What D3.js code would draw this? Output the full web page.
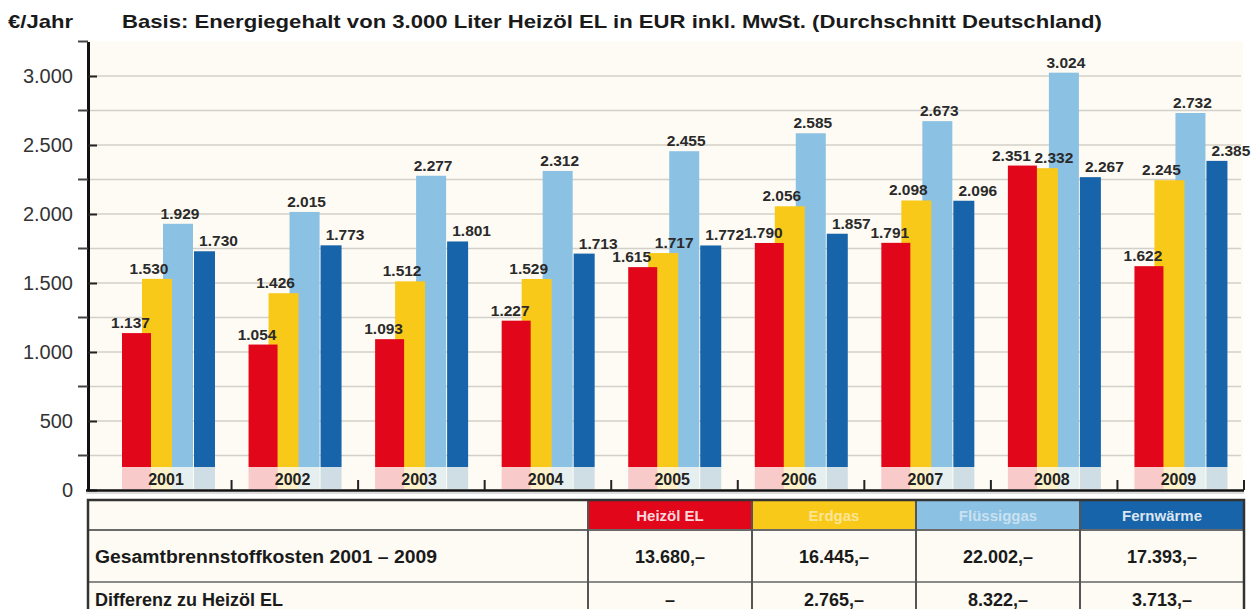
<!DOCTYPE html>
<html>
<head>
<meta charset="utf-8">
<script src="https://cdn.jsdelivr.net/npm/d3@7"></script>
<style>
  body { margin: 0; background: #fff; }
  svg { display: block; font-family: Arial, "Liberation Sans", sans-serif; }
</style>
</head>
<body>
<div id="chart"></div>
<script>
// data
var years = ["2001", "2002", "2003", "2004", "2005", "2006", "2007", "2008", "2009"];
var heizoel = [1137, 1054, 1093, 1227, 1615, 1790, 1791, 2351, 1622];
var erdgas = [1530, 1426, 1512, 1529, 1717, 2056, 2098, 2332, 2245];
var fluessiggas = [1929, 2015, 2277, 2312, 2455, 2585, 2673, 3024, 2732];
var fernwaerme = [1730, 1773, 1801, 1713, 1772, 1857, 2096, 2267, 2385];
var seriesNames = ["Heizöl EL", "Erdgas", "Flüssiggas", "Fernwärme"];
var yTicks = [0, 500, 1000, 1500, 2000, 2500, 3000];
var totalLabel = "Gesamtbrennstoffkosten 2001 – 2009";
var totals = ["13.680,–", "16.445,–", "22.002,–", "17.393,–"];
var diffLabel = "Differenz zu Heizöl EL";
var diffs = ["–", "2.765,–", "8.322,–", "3.713,–"];
var title = "Basis: Energiegehalt von 3.000 Liter Heizöl EL in EUR inkl. MwSt. (Durchschnitt Deutschland)";
var unit = "€/Jahr";

function createChart()
{
    var W = 1257, H = 609;
    var colors = ["#e2061b", "#f9c91a", "#8bc1e2", "#1764aa"];
    var series = [heizoel, erdgas, fluessiggas, fernwaerme];

    var de = d3.formatLocale({decimal: ",", thousands: ".", grouping: [3], currency: ["", "€"]});
    var fmt = de.format(",");

    var svg = d3.select("#chart").append("svg")
      .attr("width", W)
      .attr("height", H);

    var y = d3.scaleLinear().domain([0, 3250]).range([490, 41.5]);
    var x = d3.scaleBand().domain(years).range([105, 1244]).paddingInner(0).paddingOuter(0);

    // plot background
    svg.append("rect")
      .attr("x", 88).attr("y", y(3250))
      .attr("width", 1155).attr("height", y(0) - y(3250))
      .attr("fill", "#fdfbf4");

    // gridlines every 250
    var minor = d3.range(250, 3001, 250);
    svg.append("g").selectAll("line").data(minor).join("line")
      .attr("x1", 88).attr("x2", 1241)
      .attr("y1", d => y(d)).attr("y2", d => y(d))
      .attr("stroke", "#d3d0c9").attr("stroke-width", 1.6);

    // bars (in sub-band offsets / widths)
    var offs = [17, 37, 58, 89], wids = [29, 30, 30, 21];
    var stripTop = y(0) - 23;
    var order = [3, 2, 1, 0];
    var bars = svg.append("g");
    order.forEach(s => {
        bars.append("g").selectAll("rect").data(series[s]).join("rect")
          .attr("x", (d, i) => x(years[i]) + offs[s])
          .attr("width", wids[s])
          .attr("y", d => y(d))
          .attr("height", d => stripTop - y(d))
          .attr("fill", colors[s]);
        bars.append("g").selectAll("rect").data(series[s]).join("rect")
          .attr("x", (d, i) => x(years[i]) + offs[s])
          .attr("width", wids[s])
          .attr("y", stripTop)
          .attr("height", y(0) - stripTop - 1)
          .attr("fill", d3.interpolateRgb(colors[s], "#fdfbf4")(0.8));
    });

    // year labels
    svg.append("g").selectAll("text").data(years).join("text")
      .attr("x", d => x(d) + 61)
      .attr("y", y(0) - 5)
      .attr("text-anchor", "middle")
      .attr("font-size", 16).attr("font-weight", "bold")
      .attr("fill", "#222")
      .text(d => d);

    // value labels
    var dxs = [-6, -8, 2, 14];
    var labels = svg.append("g");
    series.forEach((vals, s) => {
        labels.append("g").selectAll("text").data(vals).join("text")
          .attr("x", (d, i) => {
              var dx = dxs[s];
              // red and yellow labels at nearly equal height are pushed apart
              if (Math.abs(heizoel[i] - erdgas[i]) < 120) dx = s == 0 ? -11 : (s == 1 ? 11 : dx);
              return x(years[i]) + offs[s] + wids[s] / 2 + dx;
          })
          .attr("y", d => y(d) - 5)
          .attr("text-anchor", "middle")
          .attr("font-size", 15.5).attr("font-weight", "bold")
          .attr("fill", "#2a2a2a")
          .text(d => fmt(d));
    });

    // y axis
    var yAxis = svg.append("g")
      .attr("transform", "translate(88,0)")
      .call(d3.axisLeft(y).tickValues(yTicks).tickFormat(fmt).tickSizeInner(11).tickSizeOuter(0).tickPadding(4));
    yAxis.select(".domain").attr("stroke", "#111").attr("stroke-width", 3);
    yAxis.selectAll(".tick line").attr("x2", 9).attr("stroke", "#222").attr("stroke-width", 2);
    yAxis.selectAll(".tick text")
      .attr("font-size", 20).attr("fill", "#333")
      .attr("font-family", "Arial, 'Liberation Sans', sans-serif");

    var minorTicks = minor.filter(d => d % 500 != 0).concat([3250]);
    svg.append("g").selectAll("line").data(minorTicks).join("line")
      .attr("x1", 78).attr("x2", 88)
      .attr("y1", d => y(d)).attr("y2", d => y(d))
      .attr("stroke", "#444").attr("stroke-width", 2);

    // x axis
    svg.append("line")
      .attr("x1", 86).attr("x2", 1244)
      .attr("y1", y(0) + 0.5).attr("y2", y(0) + 0.5)
      .attr("stroke", "#111").attr("stroke-width", 2.5);
    svg.append("line")
      .attr("x1", 86).attr("x2", 1244)
      .attr("y1", y(0) + 3).attr("y2", y(0) + 3)
      .attr("stroke", "#bbb").attr("stroke-width", 1);
    svg.append("g").selectAll("line").data(years).join("line")
      .attr("x1", d => x(d) + x.bandwidth()).attr("x2", d => x(d) + x.bandwidth())
      .attr("y1", y(0) - 10).attr("y2", y(0))
      .attr("stroke", "#222").attr("stroke-width", 2);

    // headings
    svg.append("text")
      .attr("x", 8).attr("y", 28)
      .attr("font-size", 19).attr("font-weight", "bold").attr("fill", "#1a1a1a")
      .attr("textLength", 65).attr("lengthAdjust", "spacingAndGlyphs")
      .text(unit);
    svg.append("text")
      .attr("x", 122).attr("y", 28)
      .attr("font-size", 19).attr("font-weight", "bold").attr("fill", "#1a1a1a")
      .attr("textLength", 980).attr("lengthAdjust", "spacingAndGlyphs")
      .text(title);

    // table
    var tx0 = 88, tx1 = 1244, colX = [588, 752, 916, 1080, 1244];
    var rowY = [500, 530, 582, 640];
    var table = svg.append("g");
    table.append("rect")
      .attr("x", tx0).attr("y", rowY[0])
      .attr("width", tx1 - tx0).attr("height", rowY[3] - rowY[0])
      .attr("fill", "#fdfbf4");
    table.selectAll(".hdr").data(seriesNames).join("rect")
      .attr("x", (d, i) => colX[i] + 1).attr("y", rowY[0] + 1)
      .attr("width", 162).attr("height", rowY[1] - rowY[0] - 2)
      .attr("fill", (d, i) => colors[i]);
    table.selectAll(".hdrtxt").data(seriesNames).join("text")
      .attr("x", (d, i) => (colX[i] + colX[i + 1]) / 2)
      .attr("y", rowY[0] + 21)
      .attr("text-anchor", "middle")
      .attr("font-size", 15).attr("font-weight", "bold")
      .attr("fill", "#fff").attr("fill-opacity", (d, i) => i == 1 || i == 2 ? 0.55 : 0.85)
      .text(d => d);

    // horizontal rules
    table.append("line")
      .attr("x1", tx0).attr("x2", tx1).attr("y1", rowY[1]).attr("y2", rowY[1])
      .attr("stroke", "#6a6a6a").attr("stroke-width", 2);
    table.append("line")
      .attr("x1", tx0).attr("x2", tx1).attr("y1", rowY[2]).attr("y2", rowY[2])
      .attr("stroke", "#8a8a8a").attr("stroke-width", 2);
    // column rules
    table.selectAll(".col").data(colX.slice(0, 4)).join("line")
      .attr("x1", d => d).attr("x2", d => d)
      .attr("y1", rowY[0]).attr("y2", H)
      .attr("stroke", "#555").attr("stroke-width", 2);
    // outer border
    table.append("path")
      .attr("d", "M" + tx0 + "," + H + "V" + rowY[0] + "H" + tx1 + "V" + H)
      .attr("fill", "none").attr("stroke", "#333").attr("stroke-width", 2.5);

    table.append("text")
      .attr("x", 95).attr("y", 563)
      .attr("font-size", 18).attr("font-weight", "bold").attr("fill", "#1a1a1a")
      .attr("textLength", 342).attr("lengthAdjust", "spacingAndGlyphs")
      .text(totalLabel);
    table.append("text")
      .attr("x", 95).attr("y", 606)
      .attr("font-size", 18).attr("font-weight", "bold").attr("fill", "#1a1a1a")
      .text(diffLabel);
    table.selectAll(".tot").data(totals).join("text")
      .attr("x", (d, i) => (colX[i] + colX[i + 1]) / 2)
      .attr("y", 563)
      .attr("text-anchor", "middle")
      .attr("font-size", 18).attr("font-weight", "bold").attr("fill", "#1a1a1a")
      .text(d => d);
    table.selectAll(".dif").data(diffs).join("text")
      .attr("x", (d, i) => (colX[i] + colX[i + 1]) / 2)
      .attr("y", 606)
      .attr("text-anchor", "middle")
      .attr("font-size", 18).attr("font-weight", "bold").attr("fill", "#1a1a1a")
      .text(d => d);
}

createChart();
</script>
</body>
</html>
